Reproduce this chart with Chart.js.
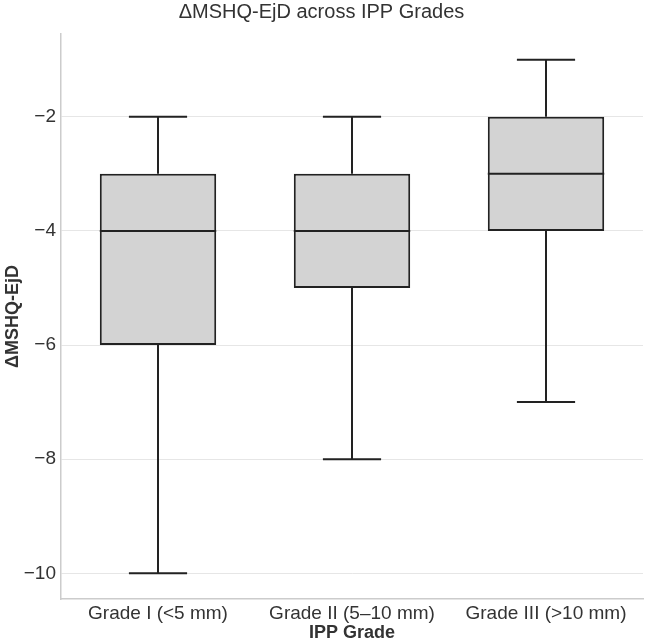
<!DOCTYPE html>
<html>
<head>
<meta charset="utf-8">
<script src="https://cdn.jsdelivr.net/npm/chart.js@4/dist/chart.umd.min.js"></script>
<style>
  html, body { margin: 0; padding: 0; background: #fff; }
  #wrap { width: 645px; height: 642px; }
</style>
</head>
<body>
<div id="wrap"><canvas id="chart"></canvas></div>
<script>
const categories = ['Grade I (<5 mm)', 'Grade II (5–10 mm)', 'Grade III (>10 mm)'];
const whiskerLow = [-10, -8, -7];
const q1 = [-6, -5, -4];
const medians = [-4, -4, -3];
const q3 = [-3, -3, -2];
const whiskerHigh = [-2, -2, -1];
const yTicks = [-10, -8, -6, -4, -2];

const FONT = "'Liberation Sans', Arial, sans-serif";
const INK = '#222222';

// whiskers, caps and median line, placed through the chart's own scales
const boxParts = {
  id: 'boxParts',
  afterDatasetsDraw(chart) {
    const meta = chart.getDatasetMeta(0);
    const y = chart.scales.y;
    const ctx = chart.ctx;
    ctx.save();
    ctx.strokeStyle = INK;
    ctx.lineWidth = 2;
    meta.data.forEach((bar, i) => {
      const cx = bar.x;
      const half = bar.width / 2;
      const capHalf = half / 2;
      const yLo = y.getPixelForValue(whiskerLow[i]);
      const yHi = y.getPixelForValue(whiskerHigh[i]);
      const yQ1 = y.getPixelForValue(q1[i]);
      const yQ3 = y.getPixelForValue(q3[i]);
      const yMed = y.getPixelForValue(medians[i]);
      ctx.beginPath();
      ctx.moveTo(cx, yQ1); ctx.lineTo(cx, yLo);
      ctx.moveTo(cx - capHalf, yLo); ctx.lineTo(cx + capHalf, yLo);
      ctx.moveTo(cx, yQ3); ctx.lineTo(cx, yHi);
      ctx.moveTo(cx - capHalf, yHi); ctx.lineTo(cx + capHalf, yHi);
      ctx.moveTo(cx - half, yMed); ctx.lineTo(cx + half, yMed);
      ctx.stroke();
    });
    ctx.restore();
  }
};

new Chart(document.getElementById('chart'), {
  type: 'bar',
  data: {
    labels: categories,
    datasets: [{
      data: categories.map((_, i) => [q1[i], q3[i]]),
      backgroundColor: '#d3d3d3',
      borderColor: INK,
      borderWidth: 2,
      borderSkipped: false,
      barPercentage: 0.6,
      categoryPercentage: 1.0,
    }],
  },
  options: {
    responsive: true,
    maintainAspectRatio: false,
    animation: false,
    layout: { padding: { left: 0, right: 2, top: 0, bottom: 0 } },
    plugins: {
      legend: { display: false },
      tooltip: { enabled: false },
      title: {
        display: true,
        text: 'ΔMSHQ-EjD across IPP Grades',
        color: '#333333',
        font: { family: FONT, size: 20, weight: 'normal' },
        padding: { top: 0, bottom: 10 },
      },
    },
    scales: {
      x: {
        offset: true,
        grid: { display: false, drawTicks: false },
        border: { display: true, color: '#cccccc', width: 1.5 },
        ticks: { color: '#333333', font: { family: FONT, size: 19 }, padding: 3, maxRotation: 0 },
        title: {
          display: true,
          text: 'IPP Grade',
          color: '#333333',
          font: { family: FONT, size: 18, weight: 'bold' },
          padding: { top: 0, bottom: -2 },
        },
        afterFit(scale) { scale.height = 43; },
      },
      y: {
        min: -10.45,
        max: -0.55,
        grid: { color: '#e6e6e6', lineWidth: 1, drawTicks: false },
        border: { display: true, color: '#cccccc', width: 1.5 },
        afterBuildTicks(scale) { scale.ticks = yTicks.map((v) => ({ value: v })); },
        ticks: {
          color: '#333333',
          font: { family: FONT, size: 19 },
          padding: 5,
          callback: (v) => String(v).replace('-', '\u2212'),
        },
        title: {
          display: true,
          text: 'ΔMSHQ-EjD',
          color: '#333333',
          font: { family: FONT, size: 18, weight: 'bold' },
          padding: { top: 2, bottom: 0 },
        },
        afterFit(scale) { scale.width = 61; },
      },
    },
  },
  plugins: [boxParts],
});
</script>
</body>
</html>
